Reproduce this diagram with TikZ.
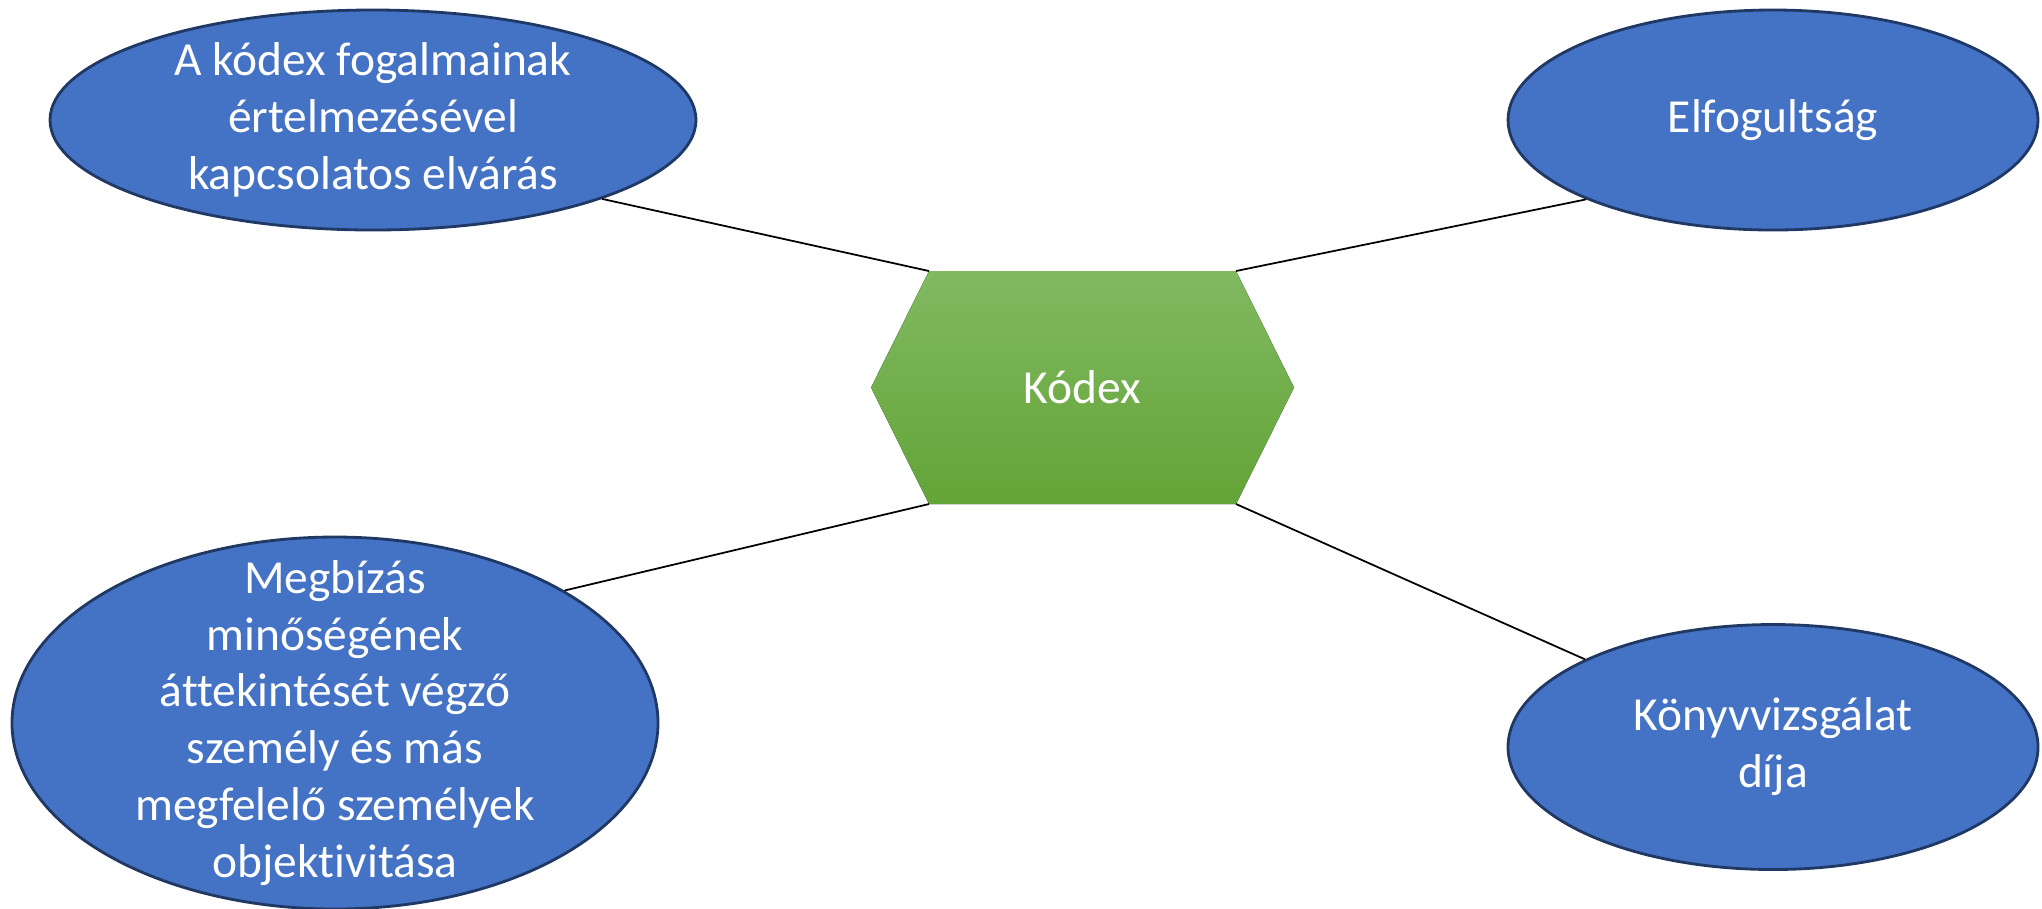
\documentclass[tikz,border=0pt]{standalone}
\usepackage{fontspec}
\setmainfont{Carlito}[Ligatures=NoCommon]
\usepackage{xcolor}
\usepackage{tikz}
\usetikzlibrary{shapes,backgrounds}
\definecolor{bubbleblue}{RGB}{68,114,196}
\definecolor{bubbleedge}{RGB}{32,56,100}
\definecolor{hextop}{RGB}{129,185,97}
\definecolor{hexbottom}{RGB}{99,164,55}

\begin{document}
\begin{tikzpicture}[
		bubble/.style={ellipse, draw=bubbleedge, line width=0.8pt, fill=bubbleblue, inner sep=0pt},
		bubbletext/.style={text=white, align=center, font=\fontsize{13.5}{16.2}\selectfont},
		link/.style={line width=0.5pt}]
				\useasboundingbox (0,0) rectangle (20.42,-9.08);
				% centre
				\node[bubbletext, minimum width=3.07cm, minimum height=2.33cm, inner sep=0pt, outer sep=0pt] (kodex) at (10.825,-3.875) {Kódex};
				\begin{scope}[on background layer]
					\fill[top color=hextop, bottom color=hexbottom] (kodex.north west) -- (kodex.north east) -- ([xshift=0.58cm]kodex.east) -- (kodex.south east) -- (kodex.south west) -- ([xshift=-0.58cm]kodex.west) -- cycle;
				\end{scope}
				% bubbles
				\node[bubble, minimum width=6.46cm, minimum height=2.20cm] (fogalmak) at (3.73,-1.20) {};
				\node[bubbletext] (fogalmak-t) at (fogalmak) {A kódex fogalmainak\\értelmezésével\\kapcsolatos elvárás};
				\node[bubble, minimum width=5.30cm, minimum height=2.20cm] (elfogult) at (17.73,-1.20) {};
				\node[bubbletext] (elfogult-t) at (elfogult) {Elfogultság};
				\node[bubble, minimum width=6.46cm, minimum height=3.72cm] (megbizas) at (3.35,-7.23) {};
				\node[bubbletext] (megbizas-t) at (megbizas) {Megbízás\\minőségének\\áttekintését végző\\személy és más\\megfelelő személyek\\objektivitása};
				\node[bubble, minimum width=5.30cm, minimum height=2.45cm] (dij) at (17.73,-7.47) {};
				\node[bubbletext] (dij-t) at (dij) {Könyvvizsgálat\\díja};
				% links
				\draw[link] (fogalmak.-19) -- (kodex.north west);
				\draw[link] (elfogult.203) -- (kodex.north east);
				\draw[link] (megbizas.30) -- (kodex.south west);
				\draw[link] (dij.155) -- (kodex.south east);
			\end{tikzpicture}
\end{document}
